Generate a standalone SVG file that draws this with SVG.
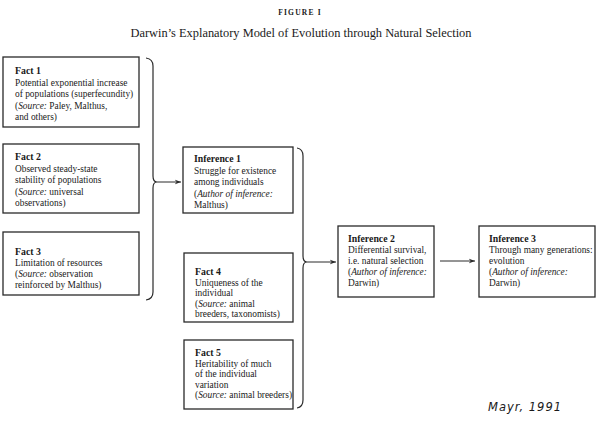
<svg xmlns="http://www.w3.org/2000/svg" width="600" height="422" viewBox="0 0 600 422">
<defs>
<style>
.box{fill:#fff;stroke:#2a2a2a;stroke-width:1.3}
.t{font-family:"Liberation Serif","Times New Roman",serif;font-size:9.4px;fill:#1a1a1a}
.h{font-weight:bold;font-size:9.8px}
.i{font-style:italic}
.br{fill:none;stroke:#2a2a2a;stroke-width:1.2}
.ar{fill:none;stroke:#2a2a2a;stroke-width:1}
</style>
<marker id="ah" viewBox="0 0 10 10" refX="9" refY="5" markerWidth="7" markerHeight="7" orient="auto" markerUnits="userSpaceOnUse">
<path d="M0,1.5 L9,5 L0,8.5 L3,5 Z" fill="#2a2a2a"/>
</marker>
</defs>
<rect width="600" height="422" fill="#fff"/>
<text x="300" y="15" text-anchor="middle" font-family="Liberation Serif, serif" font-size="7.5" font-weight="bold" letter-spacing="1.2" fill="#1a1a1a">FIGURE I</text>
<text x="301" y="37" text-anchor="middle" font-family="Liberation Serif, serif" font-size="12.4" fill="#1a1a1a">Darwin’s Explanatory Model of Evolution through Natural Selection</text>

<g id="fact1">
<rect class="box" x="3" y="57" width="136" height="70"/>
<text class="t"><tspan class="h" x="15" y="74">Fact 1</tspan><tspan x="15" y="85.5">Potential exponential increase</tspan><tspan x="15" y="97">of populations (superfecundity)</tspan><tspan x="15" y="108.5">(<tspan class="i">Source:</tspan> Paley, Malthus,</tspan><tspan x="15" y="120">and others)</tspan></text>
</g>
<g id="fact2">
<rect class="box" x="3" y="144" width="136" height="69"/>
<text class="t"><tspan class="h" x="15" y="160">Fact 2</tspan><tspan x="15" y="171.5">Observed steady-state</tspan><tspan x="15" y="183">stability of populations</tspan><tspan x="15" y="194.5">(<tspan class="i">Source:</tspan> universal</tspan><tspan x="15" y="206">observations)</tspan></text>
</g>
<g id="fact3">
<rect class="box" x="3" y="232" width="136" height="63"/>
<text class="t"><tspan class="h" x="15" y="255">Fact 3</tspan><tspan x="15" y="266">Limitation of resources</tspan><tspan x="15" y="277">(<tspan class="i">Source:</tspan> observation</tspan><tspan x="15" y="288">reinforced by Malthus)</tspan></text>
</g>
<g id="inference1">
<rect class="box" x="183" y="147" width="110" height="66"/>
<text class="t"><tspan class="h" x="194" y="162">Inference 1</tspan><tspan x="194" y="173.5">Struggle for existence</tspan><tspan x="194" y="185">among individuals</tspan><tspan x="194" y="196.5">(<tspan class="i">Author of inference:</tspan></tspan><tspan x="194" y="208">Malthus)</tspan></text>
</g>
<g id="fact4">
<rect class="box" x="184" y="253" width="109" height="69"/>
<text class="t"><tspan class="h" x="195" y="275">Fact 4</tspan><tspan x="195" y="285.5">Uniqueness of the</tspan><tspan x="195" y="296">individual</tspan><tspan x="195" y="306.5">(<tspan class="i">Source:</tspan> animal</tspan><tspan x="195" y="317">breeders, taxonomists)</tspan></text>
</g>
<g id="fact5">
<rect class="box" x="184" y="340" width="109" height="69"/>
<text class="t"><tspan class="h" x="195" y="356">Fact 5</tspan><tspan x="195" y="366.5">Heritability of much</tspan><tspan x="195" y="377">of the individual</tspan><tspan x="195" y="387.5">variation</tspan><tspan x="195" y="398">(<tspan class="i">Source:</tspan> animal breeders)</tspan></text>
</g>
<g id="inference2">
<rect class="box" x="338" y="226" width="96" height="71"/>
<text class="t"><tspan class="h" x="348" y="242">Inference 2</tspan><tspan x="348" y="253">Differential survival,</tspan><tspan x="348" y="264">i.e. natural selection</tspan><tspan x="348" y="275">(<tspan class="i">Author of inference:</tspan></tspan><tspan x="348" y="286">Darwin)</tspan></text>
</g>
<g id="inference3">
<rect class="box" x="479" y="226" width="116" height="71"/>
<text class="t"><tspan class="h" x="489" y="242">Inference 3</tspan><tspan x="489" y="253">Through many generations:</tspan><tspan x="489" y="264">evolution</tspan><tspan x="489" y="275">(<tspan class="i">Author of inference:</tspan></tspan><tspan x="489" y="286">Darwin)</tspan></text>
</g>

<g id="connectors">
<path class="br" d="M146,58 Q153,59 153,66 L153,176 Q153,182 157,182 Q153,182 153,188 L153,292 Q153,299 146,300"/>
<path class="br" d="M297,148 Q303,149 303,156 L303,256 Q303,262 307,262 Q303,262 303,268 L303,400 Q303,407 297,408"/>
<line class="ar" x1="157" y1="182" x2="181" y2="182" marker-end="url(#ah)"/>
<line class="ar" x1="307" y1="262" x2="336" y2="262" marker-end="url(#ah)"/>
<line class="ar" x1="440" y1="261" x2="475" y2="261" marker-end="url(#ah)"/>
</g>

<text x="488" y="411" font-family="DejaVu Sans, sans-serif" font-size="11.5" font-style="italic" letter-spacing="1" fill="#1a1a1a">Mayr, 1991</text>
</svg>
